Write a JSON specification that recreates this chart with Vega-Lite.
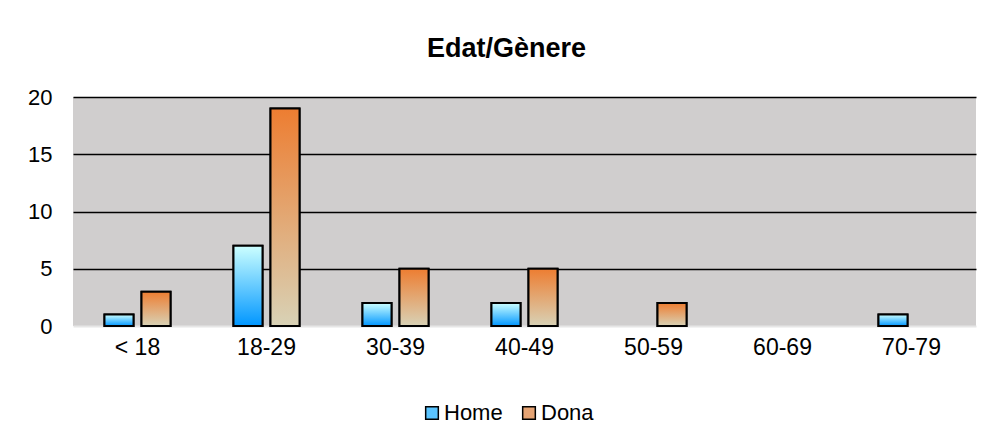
{
  "$schema": "https://vega.github.io/schema/vega-lite/v6.json",
  "width": 903,
  "height": 229,
  "autosize": {"type": "none"},
  "padding": {"left": 73, "top": 97, "right": 18, "bottom": 115},
  "background": "white",
  "title": {
    "text": "Edat/Gènere",
    "font": "Liberation Sans",
    "fontSize": 27,
    "fontWeight": "bold",
    "color": "black",
    "anchor": "middle",
    "dx": -18,
    "offset": 23
  },
  "view": {"fill": "#d0cece", "stroke": null},
  "data": {
    "values": [
      {"age": "< 18", "g": "Home", "v": 1},
      {"age": "< 18", "g": "Dona", "v": 3},
      {"age": "18-29", "g": "Home", "v": 7},
      {"age": "18-29", "g": "Dona", "v": 19},
      {"age": "30-39", "g": "Home", "v": 2},
      {"age": "30-39", "g": "Dona", "v": 5},
      {"age": "40-49", "g": "Home", "v": 2},
      {"age": "40-49", "g": "Dona", "v": 5},
      {"age": "50-59", "g": "Dona", "v": 2},
      {"age": "70-79", "g": "Home", "v": 1}
    ]
  },
  "encoding": {
    "x": {
      "field": "age",
      "type": "nominal",
      "sort": null,
      "scale": {
        "domain": ["< 18", "18-29", "30-39", "40-49", "50-59", "60-69", "70-79"],
        "paddingInner": 0.488,
        "paddingOuter": 0.244
      },
      "axis": {
        "title": null,
        "labelAngle": 0,
        "labelFont": "Liberation Sans",
        "labelFontSize": 23,
        "labelColor": "black",
        "labelPadding": 10,
        "ticks": false,
        "domain": true,
        "domainColor": "#e6e6e6",
        "domainWidth": 2,
        "grid": false
      }
    },
    "xOffset": {
      "field": "g",
      "type": "nominal",
      "scale": {"domain": ["Home", "Dona"], "paddingInner": 0.216, "paddingOuter": 0}
    },
    "y": {
      "field": "v",
      "type": "quantitative",
      "scale": {"domain": [0, 20], "nice": false},
      "axis": {
        "title": null,
        "values": [0, 5, 10, 15, 20],
        "labelFont": "Liberation Sans",
        "labelFontSize": 22,
        "labelColor": "black",
        "labelPadding": 21,
        "ticks": false,
        "domain": false,
        "grid": true,
        "gridColor": {"condition": {"test": "datum.value === 0", "value": "transparent"}, "value": "black"},
        "gridWidth": 1.5,
        "gridOpacity": 1
      }
    }
  },
  "layer": [
    {
      "mark": {"type": "bar", "stroke": "black", "strokeWidth": 2},
      "encoding": {
        "fill": {
          "field": "g",
          "type": "nominal",
          "scale": {"domain": ["Home", "Dona"], "range": ["#5ac4ff", "#e6a474"]},
          "legend": {
            "title": null,
            "orient": "none",
            "direction": "horizontal",
            "legendX": 348,
            "legendY": 305,
            "symbolType": "square",
            "symbolSize": 160,
            "symbolStrokeColor": "black",
            "symbolStrokeWidth": 1.5,
            "labelFont": "Liberation Sans",
            "labelFontSize": 22,
            "labelColor": "black",
            "labelOffset": 1,
            "columnPadding": 15
          }
        }
      }
    },
    {
      "mark": {"type": "bar", "stroke": "black", "strokeWidth": 2},
      "encoding": {
        "fill": {
          "condition": {
            "test": "datum.g === 'Home'",
            "value": {
              "gradient": "linear", "x1": 0, "y1": 0, "x2": 0, "y2": 1,
              "stops": [{"offset": 0, "color": "#ccffff"}, {"offset": 1, "color": "#0096ff"}]
            }
          },
          "value": {
            "gradient": "linear", "x1": 0, "y1": 0, "x2": 0, "y2": 1,
            "stops": [{"offset": 0, "color": "#ed7d31"}, {"offset": 1, "color": "#d8d2b6"}]
          }
        }
      }
    }
  ]
}
